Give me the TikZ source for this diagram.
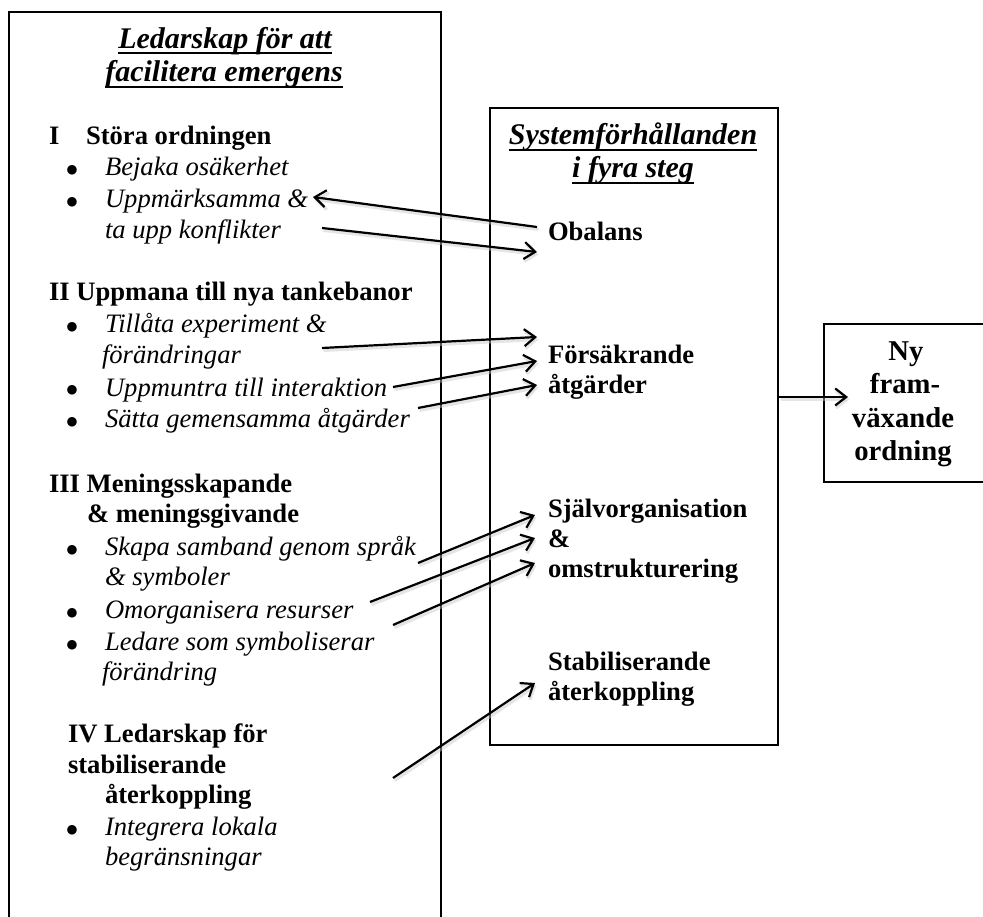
\documentclass[tikz,border=0pt]{standalone}
\usepackage{fontspec}
\setmainfont{Liberation Serif}
\newfontfamily\dejavu{DejaVu Sans}
\usetikzlibrary{arrows.meta}
\tikzset{
  boxline/.style={line width=2.2pt, line join=miter},
  txt/.style={inner sep=0pt, outer sep=0pt},
  bodyb/.style={txt, anchor=base west, font=\fontsize{26.6}{31}\selectfont\bfseries},
  bodyi/.style={txt, anchor=base west, font=\fontsize{26.6}{31}\selectfont\itshape},
  bul/.style={txt, anchor=base, yshift=2pt, font=\fontsize{12.5}{15}\dejavu},
  ttl/.style={txt, anchor=base, font=\fontsize{30}{33}\selectfont\bfseries\itshape},
  nyt/.style={txt, anchor=base, font=\fontsize{28.7}{33}\selectfont\bfseries},
  uline/.style={line width=2pt},
  arr/.style={line width=2.2pt, -{Straight Barb[length=11pt,width=17pt]},
    preaction={draw, gray!45, opacity=0.45, line width=3pt,
      transform canvas={shift={(1.5pt,-2.5pt)}}}},
}
\begin{document}
\begin{tikzpicture}[x=1pt,y=-1pt]
\useasboundingbox (0,0) rectangle (983,917);
\clip (0,0) rectangle (983,917);
\fill[white] (0,0) rectangle (983,917);

% left box (open at bottom)
\draw[boxline] (9,930) -- (9,12) -- (441,12) -- (441,930);
% middle box
\node[draw, boxline, anchor=north west, inner sep=0pt, minimum width=288pt, minimum height=637pt] (mid) at (489,107) {};
% right box (runs past the right edge)
\node[draw, boxline, anchor=north west, inner sep=0pt, minimum width=220pt, minimum height=158pt] (nybox) at (823,323) {};

% left title
\node[ttl] (t1) at (225,49) {Ledarskap för att};
\node[ttl] (t2) at (224,82) {facilitera emergens};
\draw[uline] ([yshift=-4.5pt]t1.base west) -- ([yshift=-4.5pt]t1.base east);
\draw[uline] ([yshift=-5.5pt]t2.base west) -- ([yshift=-5.5pt]t2.base east);

% section I
\node[bodyb] (s1n) at (49,145) {I};
\node[bodyb] (s1) at (86,145) {Störa ordningen};
\node[bul] (u11) at (72,176) {●};
\node[bodyi] (b11) at (105,176) {Bejaka osäkerhet};
\node[bul] (u12) at (72,208) {●};
\node[bodyi] (b12) at (105,208) {Uppmärksamma \&};
\node[bodyi] (b12b) at (105,239) {ta upp konflikter};

% section II
\node[bodyb] (s2) at (49,301) {II Uppmana till nya tankebanor};
\node[bul] (u21) at (72,333) {●};
\node[bodyi] (b21) at (105,333) {Tillåta experiment \&};
\node[bodyi] (b21b) at (102,364) {förändringar};
\node[bul] (u22) at (72,396) {●};
\node[bodyi] (b22) at (105,396) {Uppmuntra till interaktion};
\node[bul] (u23) at (72,427) {●};
\node[bodyi] (b23) at (105,427) {Sätta gemensamma åtgärder};

% section III
\node[bodyb] (s3) at (49,492) {III Meningsskapande};
\node[bodyb] (s3b) at (87,522) {\& meningsgivande};
\node[bul] (u31) at (72,555) {●};
\node[bodyi] (b31) at (105,555) {Skapa samband genom språk};
\node[bodyi] (b31b) at (105,585) {\& symboler};
\node[bul] (u32) at (72,618) {●};
\node[bodyi] (b32) at (105,618) {Omorganisera resurser};
\node[bul] (u33) at (72,650) {●};
\node[bodyi] (b33) at (105,650) {Ledare som symboliserar};
\node[bodyi] (b33b) at (102,680) {förändring};

% section IV
\node[bodyb] (s4) at (68,742) {IV Ledarskap för};
\node[bodyb] (s4b) at (68,773) {stabiliserande};
\node[bodyb] (s4c) at (105,803) {återkoppling};
\node[bul] (u41) at (72,835) {●};
\node[bodyi] (b41) at (105,835) {Integrera lokala};
\node[bodyi] (b41b) at (105,865) {begränsningar};

% middle title
\node[ttl] (m1) at (633,145) {Systemförhållanden};
\node[ttl] (m2) at (633,178) {i fyra steg};
\draw[uline] ([yshift=-5pt]m1.base west) -- ([yshift=-5pt]m1.base east);
\draw[uline] ([yshift=-5.5pt]m2.base west) -- ([yshift=-5.5pt]m2.base east);

% middle items
\node[bodyb] (obal) at (548,241) {Obalans};
\node[bodyb] (fors) at (548,364) {Försäkrande};
\node[bodyb] (forsb) at (548,393) {åtgärder};
\node[bodyb] (sjalv) at (548,517) {Självorganisation};
\node[bodyb] (sjalvb) at (548,547) {\&};
\node[bodyb] (sjalvc) at (548,577) {omstrukturering};
\node[bodyb] (stab) at (548,670) {Stabiliserande};
\node[bodyb] (stabb) at (548,700) {återkoppling};

% right box text
\node[nyt] (ny1) at (906,361) {Ny};
\node[nyt] (ny2) at (905,394) {fram-};
\node[nyt] (ny3) at (903,427) {växande};
\node[nyt] (ny4) at (903,460) {ordning};

% connector ends
\coordinate (a1s) at (537,227); \coordinate (a1e) at (313,197);
\coordinate (a2s) at (322,228); \coordinate (a2e) at (537,252);
\coordinate (a3s) at (322,348); \coordinate (a3e) at (537,337);
\coordinate (a4s) at (393,387); \coordinate (a4e) at (537,361);
\coordinate (a5s) at (418,408); \coordinate (a5e) at (537,385);
\coordinate (a6s) at (418,563); \coordinate (a6e) at (535,515);
\coordinate (a7s) at (370,602); \coordinate (a7e) at (535,538);
\coordinate (a8s) at (393,625); \coordinate (a8e) at (535,563);
\coordinate (a9s) at (393,778); \coordinate (a9e) at (535,683);
\coordinate (nyin) at (848,397);

\draw[arr] (a1s) -- (a1e);
\draw[arr] (a2s) -- (a2e);
\draw[arr] (a3s) -- (a3e);
\draw[arr] (a4s) -- (a4e);
\draw[arr] (a5s) -- (a5e);
\draw[arr] (a6s) -- (a6e);
\draw[arr] (a7s) -- (a7e);
\draw[arr] (a8s) -- (a8e);
\draw[arr] (a9s) -- (a9e);
\draw[arr] (mid.east |- nyin) -- (nyin);
\end{tikzpicture}
\end{document}
